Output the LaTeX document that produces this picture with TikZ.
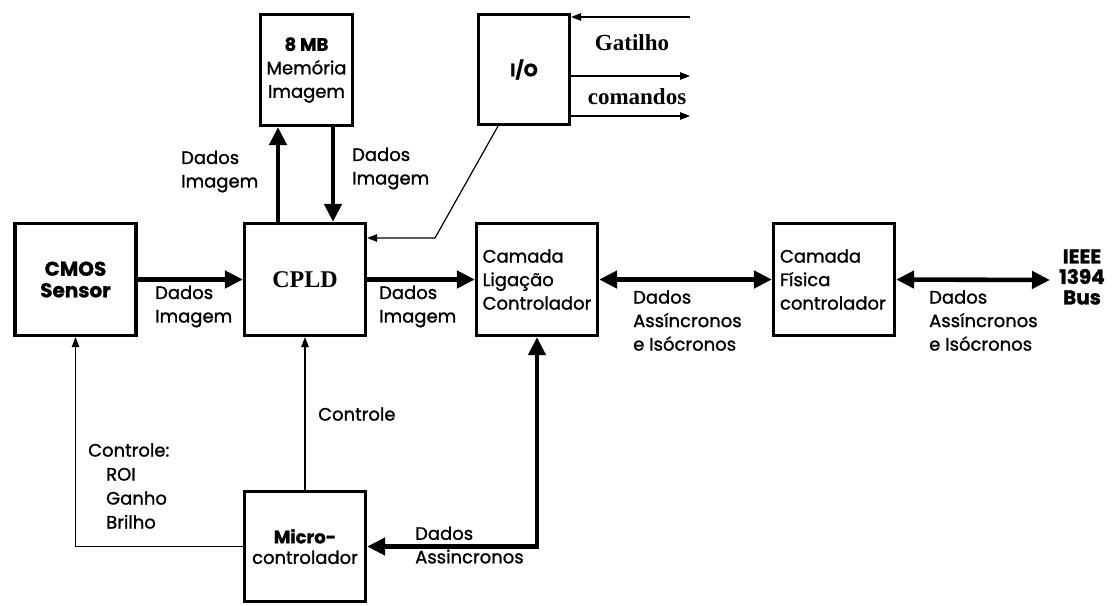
\documentclass[tikz,border=0pt]{standalone}
\usepackage{fontspec}
\setmainfont{Poppins}[FakeBold=1.2]
\newfontfamily\timesbold{Liberation Serif}[BoldFont={Liberation Serif Bold}]
\usetikzlibrary{arrows.meta}

\tikzset{
  x=1pt, y=-1pt,
  box/.style={draw, line width=3.2pt, inner sep=0pt, align=center,
    minimum width=121pt, minimum height=112pt,
    font=\fontsize{18}{23.5}\selectfont},
  lbl/.style={inner sep=0pt, align=left, anchor=west,
    font=\fontsize{18}{23.5}\selectfont},
  big/.style={line width=4.6pt, -{Triangle[length=18pt,width=17pt]}},
  bigboth/.style={line width=4.6pt, {Triangle[length=18pt,width=17pt]}-{Triangle[length=18pt,width=17pt]}},
  thin/.style={line width=1.2pt, -{Triangle[length=10pt,width=7.5pt]}},
  serifb/.style={inner sep=0pt, font=\timesbold\bfseries\fontsize{23}{24}\selectfont},
}

\begin{document}
\begin{tikzpicture}
\useasboundingbox[fill=white] (0,0) rectangle (1115,605);

% blocks
\node[box, font=\fontsize{20}{21.5}\selectfont\bfseries] (cmos) at (75.5,279.5) {CMOS\\Sensor};
\node[box] (cpld) at (305,279.5) {\timesbold\bfseries\fontsize{24}{26}\selectfont CPLD};
\node[box, align=left] (link) at (537,279.5) {Camada\\Ligação\\Controlador};
\node[box, align=left, text width=108pt] (phy) at (834,279.5) {Camada\\Física\\controlador};
\node[box, minimum width=92pt, minimum height=111pt] (mem) at (306.5,70)
  {\bfseries 8 MB\\Memória\\Imagem};
\node[box, minimum width=91pt, minimum height=110pt] (io) at (524,69.5) {\bfseries I/O};
\node[box, minimum height=110pt, font=\fontsize{18}{20.5}\selectfont] (mcu) at (305,546.5)
  {\bfseries Micro-\\controlador};

% free ends
\coordinate (busend) at (1050,280);
\coordinate (iobend) at (435,238);
\coordinate (trig) at (690,17);
\coordinate (cmd1) at (690,76);
\coordinate (cmd2) at (690,116);

% image data path
\draw[big] (cmos.east) -- (cpld.west);
\draw[big] (cpld.east) -- (link.west);
\draw[big] ([xshift=-27pt]cpld.north) -- ([xshift=-27pt]cpld.north |- mem.south);
\draw[big] ([xshift=28pt]cpld.north |- mem.south) -- ([xshift=28pt]cpld.north);

% 1394 link
\draw[bigboth] (link.east) -- (phy.west);
\draw[bigboth] (phy.east) -- (busend);
\draw[bigboth] (link.south) |- (mcu.east);

% control lines
\draw[thin] (mcu.north) -- (cpld.south);
\draw[thin] (mcu.west) -| (cmos.south);
\draw[thin] ([xshift=-26pt]io.south) -- (iobend) -- (iobend -| cpld.east);
\draw[thin] (trig) -- (trig -| io.east);
\draw[thin] (cmd1 -| io.east) -- (cmd1);
\draw[thin] (cmd2 -| io.east) -- (cmd2);

% labels
\node[lbl] (l1) at (155,306.5) {Dados\\Imagem};
\node[lbl] (l2) at (379,306.5) {Dados\\Imagem};
\node[lbl] (l3) at (181,171.5) {Dados\\Imagem};
\node[lbl] (l4) at (352,168.5) {Dados\\Imagem};
\node[lbl] (l5) at (633,320.5) {Dados\\Assíncronos\\e Isócronos};
\node[lbl] (l6) at (929,320.5) {Dados\\Assíncronos\\e Isócronos};
\node[inner sep=0pt, align=center, font=\fontsize{20}{20.5}\selectfont\bfseries] (bus) at (1082,277) {IEEE\\1394\\Bus};
\node[lbl] (l7) at (318,414) {Controle};
\node[lbl, font=\fontsize{18}{24}\selectfont] (l8) at (88,486)
  {Controle:\\\hspace*{18pt}ROI\\\hspace*{18pt}Ganho\\\hspace*{18pt}Brilho};
\node[lbl] (l9) at (415,545) {Dados\\Assincronos};
\node[serifb] (gat) at (632,43) {Gatilho};
\node[serifb] (com) at (637,97) {comandos};
\end{tikzpicture}
\end{document}
